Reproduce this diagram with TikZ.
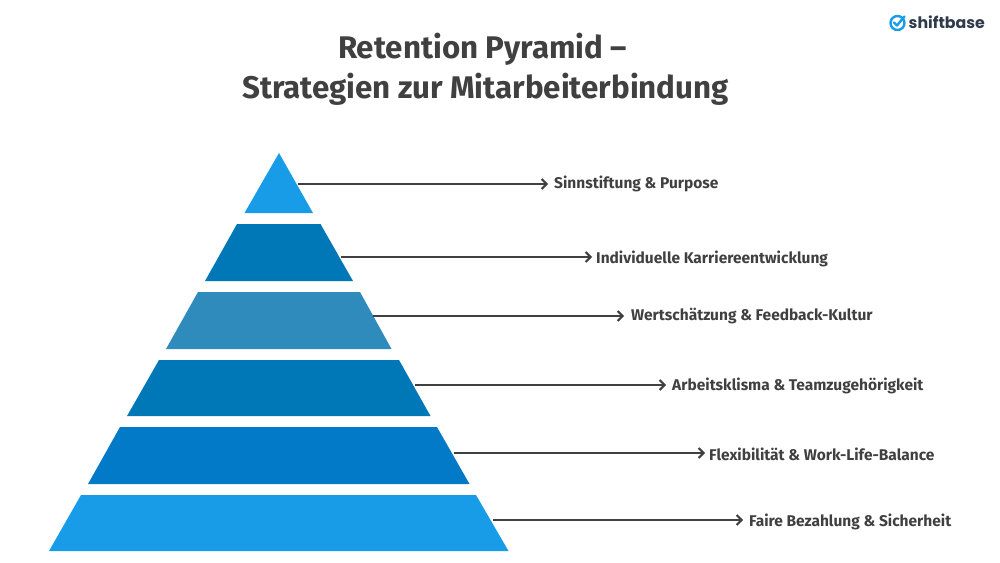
\documentclass[tikz,border=0pt]{standalone}
\usepackage{fontspec}
\setmainfont{Fira Sans}
\newfontfamily\logofont{Poppins}
\usetikzlibrary{arrows.meta}
\definecolor{skyblue}{HTML}{189CE8}
\definecolor{deepblue}{HTML}{0077B6}
\definecolor{midblue}{HTML}{2E8BBC}
\definecolor{strongblue}{HTML}{027AC8}
\definecolor{inkgray}{HTML}{404040}
\definecolor{logogray}{HTML}{2F3A4A}
\tikzset{
  layer/.style={fill=#1,draw=none},
  toplabel/.style={anchor=center,font=\bfseries\fontsize{31.3}{36}\selectfont,text=inkgray,inner sep=0pt},
  sidelabel/.style={anchor=west,font=\bfseries\fontsize{15.5}{18}\selectfont,text=inkgray,inner sep=0pt},
  pointer/.style={draw=inkgray,line width=2.4pt,-{Straight Barb[length=5pt,width=10pt,line width=2pt]}}
}
\begin{document}
\begin{tikzpicture}[x=1pt,y=-1pt]
      \useasboundingbox (0,0) rectangle (1000,562);
      \node[toplabel] (titleone) at (482.5,49) {Retention Pyramid –};
      \node[toplabel] (titletwo) at (485.5,89.5) {Strategien zur Mitarbeiterbindung};
      % pyramid
      \fill[layer=skyblue] (279,153) -- (313,213) -- (244.5,213) -- cycle;
      \fill[layer=deepblue] (237,224) -- (320.5,224) -- (353,281) -- (205,281) -- cycle;
      \fill[layer=midblue] (198,292) -- (360,292) -- (391.5,349) -- (166,349) -- cycle;
      \fill[layer=deepblue] (159,360) -- (399,360) -- (430.5,416) -- (127,416) -- cycle;
      \fill[layer=strongblue] (120,427) -- (437,427) -- (469.5,484) -- (88,484) -- cycle;
      \fill[layer=skyblue] (81,495) -- (476,495) -- (508.5,551) -- (49,551) -- cycle;
      % labels
      \node[sidelabel] (purpose) at (554,183.5) {Sinnstiftung \& Purpose};
      \node[sidelabel] (career) at (596,258.5) {Individuelle Karriereentwicklung};
      \node[sidelabel] (feedback) at (631,316.5) {Wertschätzung \& Feedback-Kultur};
      \node[sidelabel] (climate) at (672,385.5) {Arbeitsklisma \& Teamzugehörigkeit};
      \node[sidelabel] (balance) at (709,454) {Flexibilität \& Work-Life-Balance};
      \node[sidelabel] (pay) at (749,521.5) {Faire Bezahlung \& Sicherheit};
      % arrows
      \coordinate (purposeend) at (548,184);
      \coordinate (careerend) at (592,257);
      \coordinate (feedbackend) at (624,316);
      \coordinate (climateend) at (666,385);
      \coordinate (balanceend) at (705,453);
      \coordinate (payend) at (743,520);
      \coordinate (purposestart) at (298,184);
      \coordinate (careerstart) at (341,257);
      \coordinate (feedbackstart) at (373,316);
      \coordinate (climatestart) at (415,385);
      \coordinate (balancestart) at (454,453);
      \coordinate (paystart) at (493,520);
      \draw[pointer] (purposestart) -- (purposeend);
      \draw[pointer] (careerstart) -- (careerend);
      \draw[pointer] (feedbackstart) -- (feedbackend);
      \draw[pointer] (climatestart) -- (climateend);
      \draw[pointer] (balancestart) -- (balanceend);
      \draw[pointer] (paystart) -- (payend);
      % logo
      \draw[skyblue,line width=2.4pt] (897.5,23) circle (7);
      \draw[skyblue,line width=2.4pt,line cap=round,line join=round] (894,22.5) -- (897,25.5) -- (904.5,16.5);
      \node[anchor=west,inner sep=0pt,text=logogray,font=\logofont\bfseries\fontsize{15.8}{20}\selectfont] (logo) at (908.5,22) {shiftbase};
\end{tikzpicture}
\end{document}
